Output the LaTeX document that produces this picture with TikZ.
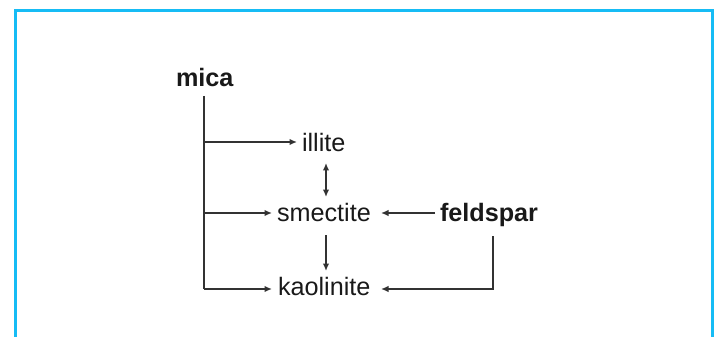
\documentclass[tikz,border=0pt]{standalone}
\usepackage{fontspec}
\setmainfont{Liberation Sans}
\usetikzlibrary{arrows.meta}
\definecolor{framecol}{RGB}{22,188,245}
\definecolor{linecol}{RGB}{50,50,50}
\tikzset{
  lbl/.style={anchor=base west,inner sep=0pt,outer sep=0pt,font=\fontsize{25.2}{29}\selectfont,text=black!90},
  boldlbl/.style={lbl,font=\fontsize{25.2}{29}\selectfont\bfseries},
  tip/.tip={Latex[length=7.5pt,width=6.5pt]},
  conn/.style={draw=linecol,line width=1.5pt,-tip},
  plainconn/.style={draw=linecol,line width=1.5pt},
  dblconn/.style={draw=linecol,line width=1.5pt,tip-tip}
}
\begin{document}
\begin{tikzpicture}[x=1pt,y=-1pt]
\useasboundingbox (0,0) rectangle (716,337);
\draw[framecol,line width=3pt] (15.5,345) -- (15.5,10.5) -- (712,10.5) -- (712,345);
% nodes
\node[boldlbl] (mica) at (176,87) {mica};
\node[lbl] (illite) at (302,152) {illite};
\node[lbl] (smectite) at (277,222) {smectite};
\node[lbl] (kaolinite) at (278,295) {kaolinite};
\node[boldlbl] (feldspar) at (440,222) {feldspar};
% anchor coordinates
\coordinate (trunkTop) at (204,96);
\coordinate (trunkBot) at (204,289);
\coordinate (jIll) at (204,142);
\coordinate (jSme) at (204,213);
\coordinate (inIll) at (297,142);
\coordinate (inSme) at (272,213);
\coordinate (inKao) at (272,289);
\coordinate (illBot) at (326,163);
\coordinate (smeTop) at (326,197);
\coordinate (smeBot) at (326,235);
\coordinate (kaoTop) at (326,271);
\coordinate (felLeft) at (435,213);
\coordinate (smeRight) at (381,213);
\coordinate (felBot) at (493,236);
\coordinate (felCorner) at (493,289);
\coordinate (kaoRight) at (381,289);
% connectors
\draw[plainconn] (trunkTop) -- (trunkBot);
\draw[conn] (jIll) -- (inIll);
\draw[conn] (jSme) -- (inSme);
\draw[conn] (trunkBot) -- (inKao);
\draw[dblconn] (illBot) -- (smeTop);
\draw[conn] (smeBot) -- (kaoTop);
\draw[conn] (felLeft) -- (smeRight);
\draw[conn] (felBot) -- (felCorner) -- (kaoRight);
\end{tikzpicture}
\end{document}
